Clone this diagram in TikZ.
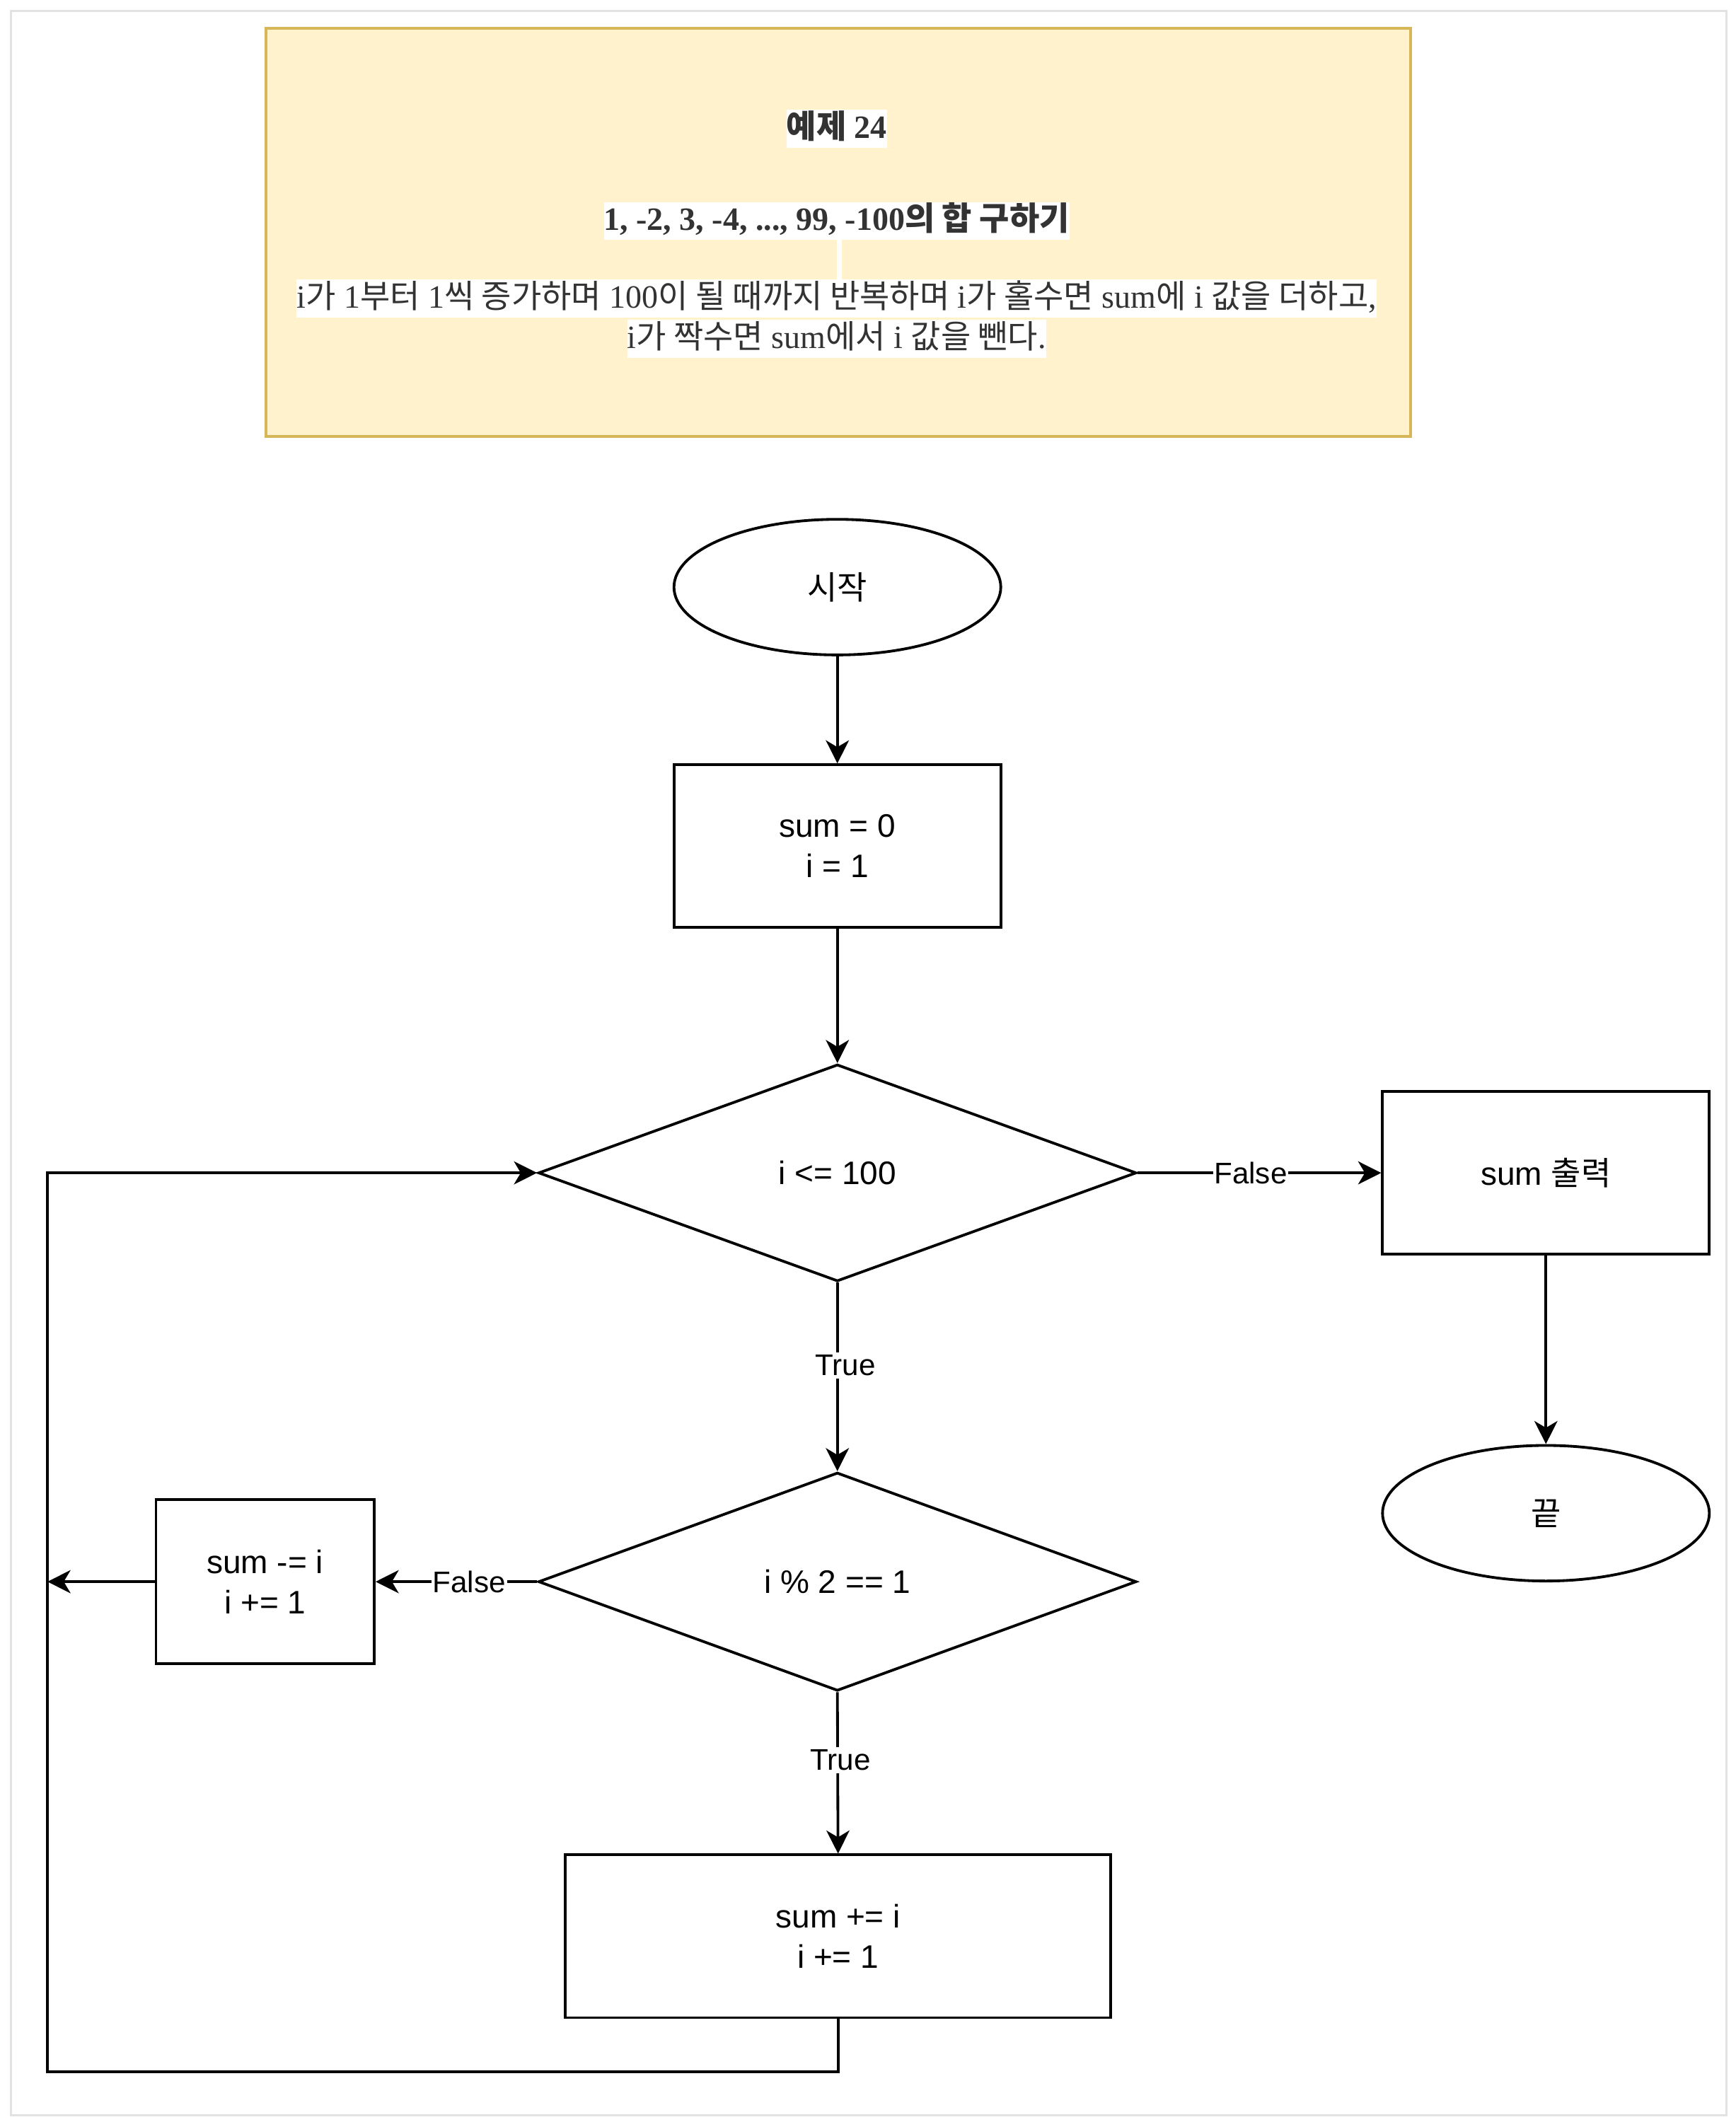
\documentclass[tikz,border=0pt]{standalone}
\usepackage{fontspec}
\setmainfont{Liberation Serif}
\setsansfont{Liberation Sans}
\newfontfamily\kor{Noto Sans CJK KR}
\usetikzlibrary{shapes.geometric,arrows.meta}
\newcommand\ko[1]{{\kor #1}}
\definecolor{notefill}{HTML}{FFF2CC}
\definecolor{notedraw}{HTML}{D6B656}
\definecolor{notetext}{HTML}{333333}
\definecolor{framegray}{HTML}{E2E2E2}
\tikzset{
  box/.style={draw, line width=1pt, rectangle, inner sep=0pt, align=center, font=\sffamily\fontsize{12pt}{14.8pt}\selectfont},
  oval/.style={draw, line width=1pt, ellipse, inner sep=0pt, align=center, font=\sffamily\fontsize{12pt}{14.8pt}\selectfont},
  decision/.style={draw, line width=1pt, diamond, inner sep=0pt, align=center, font=\sffamily\fontsize{12pt}{14.8pt}\selectfont},
  conn/.style={line width=1pt, -{Stealth[length=8.5pt,width=8.5pt,inset=2.5pt]}},
  elabel/.style={fill=white, inner xsep=0.5pt, inner ysep=1pt, font=\sffamily\fontsize{11pt}{13pt}\selectfont},
  hl/.style={fill=white, inner xsep=0pt, inner ysep=0pt, text height=10.5pt, text depth=3.5pt, text=notetext, font=\fontsize{12pt}{14.4pt}\selectfont},
}
\begin{document}
\begin{tikzpicture}[x=0.5pt,y=-0.5pt]
\useasboundingbox (0,0) rectangle (1280,1565);
\draw[framegray, line width=0.8pt] (8,8) rectangle (1273,1560);
% note box
\node[draw=notedraw, fill=notefill, line width=1pt, rectangle, inner sep=0pt,
      minimum width=422pt, minimum height=150.5pt] (note) at (618,171.5) {};
\node[hl, font=\bfseries\fontsize{12pt}{14.4pt}\selectfont] (t1) at (617,95) {\ko{예제} 24};
\node[hl, font=\bfseries\fontsize{12pt}{14.4pt}\selectfont] (t2) at (617,163) {1, -2, 3, -4, ..., 99, -100\ko{의 합 구하기}};
\node[fill=white, inner sep=0pt, minimum width=2pt, minimum height=14.5pt] (gap) at (619,191.5) {};
\node[hl] (t3) at (617,220) {i\ko{가} 1\ko{부터} 1\ko{씩 증가하며} 100\ko{이 될 때까지 반복하며} i\ko{가 홀수면} sum\ko{에} i \ko{값을 더하고},};
\node[hl] (t4) at (617,250) {i\ko{가 짝수면} sum\ko{에서} i \ko{값을 뺀다}.};
% flowchart
\node[oval, minimum width=120.5pt, minimum height=50pt] (start) at (617.5,433) {\ko{시작}};
\node[box, minimum width=120.5pt, minimum height=60pt] (init) at (617.5,624) {sum = 0\\i = 1};
\node[decision, minimum width=220.5pt, minimum height=80pt] (cond) at (617.5,865) {i {<}= 100};
\node[box, minimum width=120.5pt, minimum height=60pt] (out) at (1140,865) {sum \ko{출력}};
\node[oval, minimum width=120.5pt, minimum height=50pt] (end) at (1140,1116) {\ko{끝}};
\node[decision, minimum width=220.5pt, minimum height=80.5pt] (odd) at (617.5,1166.5) {i \% 2 == 1};
\node[box, minimum width=80.5pt, minimum height=60.5pt] (minus) at (195.5,1166.5) {sum -= i\\i += 1};
\node[box, minimum width=201pt, minimum height=60pt] (plus) at (618,1428) {sum += i\\i += 1};
\coordinate (lb) at (35,1528);
\coordinate (lt) at (35,865);
\coordinate (mj) at (35,1166.5);
% connectors
\draw[conn] (start) -- (init);
\draw[conn] (init) -- (cond);
\draw[conn] (cond.east) -- node[elabel, pos=0.464] {False} (out.west);
\draw[conn] (out) -- (end);
\draw[conn] (cond.south) -- node[elabel, pos=0.44, xshift=3pt] {True} (odd.north);
\draw[conn] (odd.west) -- node[elabel, pos=0.42] {False} (minus.east);
\draw[conn] (odd.south) -- node[elabel, pos=0.42, xshift=1pt] {True} (plus.north);
\draw[conn] (minus.west) -- (mj);
\draw[conn] (plus.south) |- (lb) -- (lt) -- (cond.west);
\end{tikzpicture}
\end{document}
